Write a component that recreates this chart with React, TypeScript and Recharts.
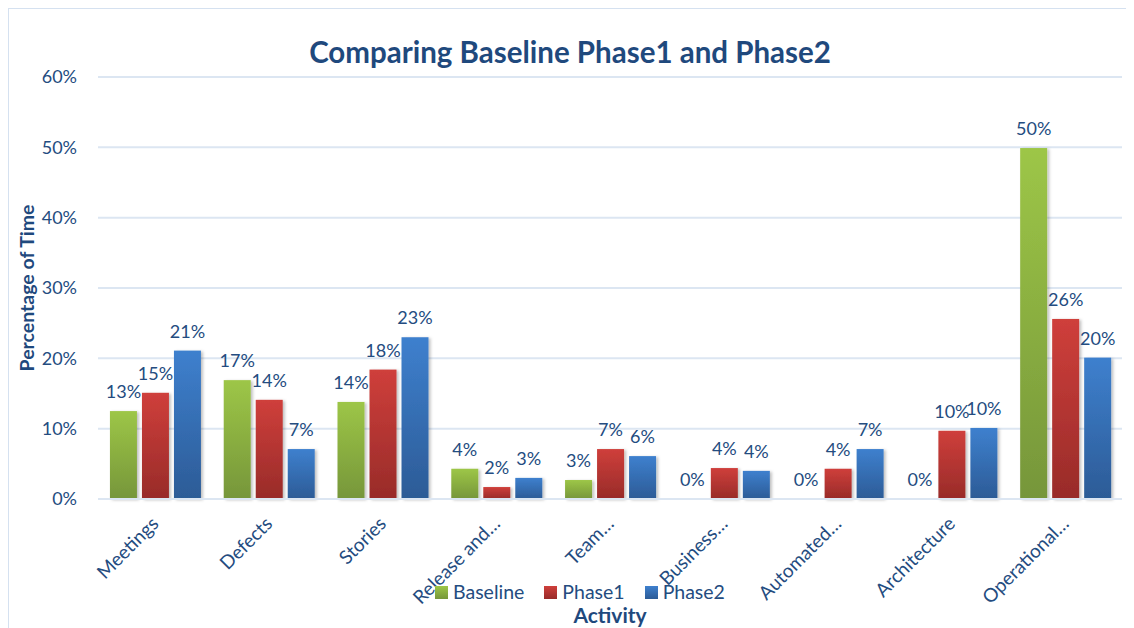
import { BarChart, Bar, XAxis, YAxis, CartesianGrid, LabelList, Label, Legend } from 'recharts'

const categories = ['Meetings', 'Defects', 'Stories', 'Release and…', 'Team…', 'Business…', 'Automated…', 'Architecture', 'Operational…']
const baseline = [12.5, 16.9, 13.8, 4.3, 2.7, 0, 0, 0, 49.9]
const phase1 = [15.1, 14.1, 18.4, 1.7, 7.1, 4.4, 4.3, 9.7, 25.6]
const phase2 = [21.1, 7.1, 23.0, 3.0, 6.1, 4.0, 7.1, 10.1, 20.1]
const yTicks = [0, 10, 20, 30, 40, 50, 60]

const data = categories.map((name, i) => ({
  name,
  Baseline: baseline[i],
  Phase1: phase1[i],
  Phase2: phase2[i],
}))

const FONT = 'Lato, "Open Sans", sans-serif'
const TEXT = '#244C80'
const TITLE = '#1F497D'

const series = [
  { key: 'Baseline', top: '#9DC647', bottom: '#76963A' },
  { key: 'Phase1', top: '#CF3F3B', bottom: '#982B29' },
  { key: 'Phase2', top: '#3E80CE', bottom: '#2C5B96' },
]

const pct = (v: any) => `${Math.round(Number(v))}%`

function BarShape(props: any) {
  const { x, y, width, height, fill } = props
  if (!height || height <= 0) return null
  return <rect x={x} y={y} width={width} height={height} fill={fill} filter="url(#barShadow)" />
}

function XTick(props: any) {
  const { x, y, payload } = props
  return (
    <text
      x={x + 5}
      y={y + 18}
      transform={`rotate(-45, ${x + 5}, ${y + 18})`}
      textAnchor="end"
      fill={TEXT}
      fontSize={19}
      fontFamily={FONT}
    >
      {payload.value}
    </text>
  )
}

function LegendContent() {
  return (
    <div style={{ display: 'flex', alignItems: 'center', fontFamily: FONT, fontSize: 19.5, lineHeight: '16px', color: TEXT }}>
      {series.map((s) => (
        <div key={s.key} style={{ display: 'flex', alignItems: 'center', marginRight: 20 }}>
          <span
            style={{
              display: 'inline-block',
              width: 13,
              height: 13,
              marginRight: 5,
              background: `linear-gradient(${s.top}, ${s.bottom})`,
            }}
          />
          {s.key}
        </div>
      ))}
    </div>
  )
}

export default function App() {
  return (
    <div
      style={{
        position: 'relative',
        width: 1122,
        height: 622,
        border: '1px solid #D5E1F0',
        background: '#fff',
      }}
    >
      <div
        style={{
          position: 'absolute',
          top: 25,
          left: 0,
          width: '100%',
          textAlign: 'center',
          fontFamily: FONT,
          fontWeight: 700,
          fontSize: 29.5,
          color: TITLE,
          zIndex: 2,
        }}
      >
        Comparing Baseline Phase1 and Phase2
      </div>
      <BarChart
        width={1122}
        height={618}
        data={data}
        margin={{ top: 68, right: 9, left: 0, bottom: 0 }}
        barGap={5}
        barCategoryGap="10.5%"
      >
        <defs>
          {series.map((s) => (
            <linearGradient key={s.key} id={`grad${s.key}`} x1="0" y1="0" x2="0" y2="1">
              <stop offset="0%" stopColor={s.top} />
              <stop offset="100%" stopColor={s.bottom} />
            </linearGradient>
          ))}
          <filter id="barShadow" x="-20%" y="-10%" width="150%" height="130%">
            <feDropShadow dx="2" dy="1" stdDeviation="1.5" floodColor="#000" floodOpacity="0.25" />
          </filter>
        </defs>
        <CartesianGrid vertical={false} stroke="#DCE6F2" strokeWidth={2} />
        <XAxis
          dataKey="name"
          interval={0}
          height={128}
          tick={<XTick />}
          tickLine={false}
          axisLine={{ stroke: '#DCE6F2', strokeWidth: 2 }}
        >
          <Label
            value="Activity"
            position="insideBottom"
            offset={4}
            fill={TITLE}
            fontSize={21}
            fontWeight={700}
            fontFamily={FONT}
          />
        </XAxis>
        <YAxis
          width={89}
          domain={[0, 60]}
          ticks={yTicks}
          tickFormatter={pct}
          tickLine={false}
          axisLine={false}
          tickMargin={15}
          tick={{ fill: TEXT, fontSize: 18, fontFamily: FONT }}
        >
          <Label
            value="Percentage of Time"
            angle={-90}
            position="insideLeft"
            offset={18}
            fill={TITLE}
            fontSize={19.5}
            fontWeight={700}
            fontFamily={FONT}
            style={{ textAnchor: 'middle' }}
          />
        </YAxis>
        <Legend
          layout="horizontal"
          verticalAlign="middle"
          align="center"
          content={<LegendContent />}
          wrapperStyle={{ position: 'absolute', top: 575, left: 426, width: 'auto' }}
        />
        {series.map((s) => (
          <Bar
            key={s.key}
            dataKey={s.key}
            fill={`url(#grad${s.key})`}
            shape={<BarShape />}
            isAnimationActive={false}
          >
            <LabelList
              dataKey={s.key}
              position="top"
              offset={13}
              formatter={pct}
              fill={TEXT}
              fontSize={18}
              fontFamily={FONT}
            />
          </Bar>
        ))}
      </BarChart>
    </div>
  )
}
